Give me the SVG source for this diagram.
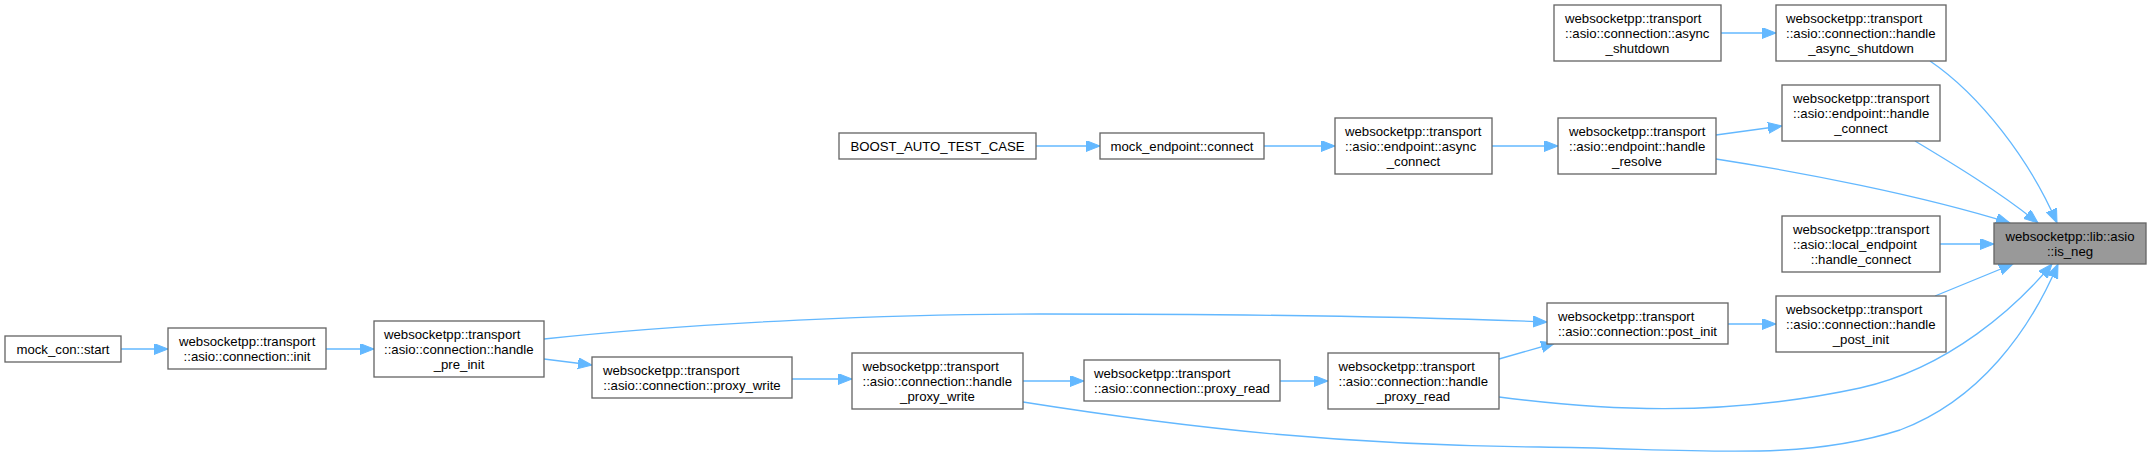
<svg xmlns="http://www.w3.org/2000/svg" width="2151" height="460" viewBox="0 0 2151 460">
<style>
.node rect{fill:#ffffff;stroke:#666666;stroke-width:1.33}
.hl rect{fill:#999999}
text{font-family:"Liberation Sans",Arial,Helvetica,sans-serif;font-size:13.2px;fill:#000000}
.c{text-anchor:middle}
.edge path{fill:none;stroke:#63b8ff;stroke-width:1.33;marker-end:url(#arr)}
</style>
<defs>
<marker id="arr" markerUnits="userSpaceOnUse" markerWidth="15" markerHeight="12" refX="14" refY="5.5" orient="auto">
<path d="M0,0 L14,5.5 L0,11 z" fill="#63b8ff" stroke="#63b8ff" stroke-width="1"/>
</marker>
</defs>
<rect x="0" y="0" width="2151" height="460" fill="#ffffff"/>
<g class="edge" id="connectors">
<path d="M121,349 L168,349"/>
<path d="M326,349 L374,349"/>
<path d="M544,359 L592,365"/>
<path d="M544,339 C700,322 900,314 1040,314 S1400,316 1547,322"/>
<path d="M792,379 L852,379"/>
<path d="M1023,381 L1084,381"/>
<path d="M1280,381 L1328,381"/>
<path d="M1499,359 L1555,343"/>
<path d="M1499,397 C1600,410 1720,418 1860,388 C1950,368 2018,305 2052,264"/>
<path d="M1023,402 C1200,430 1350,445 1540,447 C1700,449 1800,462 1900,430 C1980,400 2030,330 2058,264"/>
<path d="M1728,324 L1776,324"/>
<path d="M1935,296 L2013,264"/>
<path d="M1940,244 L1994,244"/>
<path d="M1716,159 C1800,172 1920,195 2010,223"/>
<path d="M1915,141 C1950,162 2000,192 2038,223"/>
<path d="M1930,61 C1980,95 2030,160 2057,223"/>
<path d="M1721,33 L1776,33"/>
<path d="M1036,146 L1100,146"/>
<path d="M1264,146 L1335,146"/>
<path d="M1492,146 L1558,146"/>
<path d="M1716,135 L1782,126"/>
</g>
<g class="node" id="n_async_shutdown">
<rect x="1554" y="5" width="167" height="56"/>
<text x="1565" y="23">websocketpp::transport</text>
<text x="1565" y="38">::asio::connection::async</text>
<text class="c" x="1637.5" y="53">_shutdown</text>
</g>
<g class="node" id="n_handle_async_shutdown">
<rect x="1776" y="5" width="170" height="56"/>
<text x="1786" y="23">websocketpp::transport</text>
<text x="1786" y="38">::asio::connection::handle</text>
<text class="c" x="1861" y="53">_async_shutdown</text>
</g>
<g class="node" id="n_boost">
<rect x="839" y="133" width="197" height="26"/>
<text class="c" x="937.5" y="151">BOOST_AUTO_TEST_CASE</text>
</g>
<g class="node" id="n_mock_endpoint_connect">
<rect x="1100" y="133" width="164" height="26"/>
<text class="c" x="1182" y="151">mock_endpoint::connect</text>
</g>
<g class="node" id="n_async_connect">
<rect x="1335" y="118" width="157" height="56"/>
<text x="1345" y="136">websocketpp::transport</text>
<text x="1345" y="151">::asio::endpoint::async</text>
<text class="c" x="1413.5" y="166">_connect</text>
</g>
<g class="node" id="n_handle_resolve">
<rect x="1558" y="118" width="158" height="56"/>
<text x="1569" y="136">websocketpp::transport</text>
<text x="1569" y="151">::asio::endpoint::handle</text>
<text class="c" x="1637" y="166">_resolve</text>
</g>
<g class="node" id="n_ep_handle_connect">
<rect x="1782" y="85" width="158" height="56"/>
<text x="1793" y="103">websocketpp::transport</text>
<text x="1793" y="118">::asio::endpoint::handle</text>
<text class="c" x="1861" y="133">_connect</text>
</g>
<g class="node" id="n_local_handle_connect">
<rect x="1782" y="216" width="158" height="56"/>
<text x="1793" y="234">websocketpp::transport</text>
<text x="1793" y="249">::asio::local_endpoint</text>
<text class="c" x="1861" y="264">::handle_connect</text>
</g>
<g class="node hl" id="n_is_neg">
<rect x="1994" y="223" width="152" height="41"/>
<text x="2005.5" y="241">websocketpp::lib::asio</text>
<text class="c" x="2070" y="256">::is_neg</text>
</g>
<g class="node" id="n_post_init">
<rect x="1547" y="303" width="181" height="41"/>
<text x="1558" y="321">websocketpp::transport</text>
<text class="c" x="1637.5" y="336">::asio::connection::post_init</text>
</g>
<g class="node" id="n_handle_post_init">
<rect x="1776" y="296" width="170" height="56"/>
<text x="1786" y="314">websocketpp::transport</text>
<text x="1786" y="329">::asio::connection::handle</text>
<text class="c" x="1861" y="344">_post_init</text>
</g>
<g class="node" id="n_mock_con_start">
<rect x="5" y="336" width="116" height="26"/>
<text class="c" x="63" y="354">mock_con::start</text>
</g>
<g class="node" id="n_init">
<rect x="168" y="328" width="158" height="41"/>
<text x="179" y="346">websocketpp::transport</text>
<text class="c" x="247" y="361">::asio::connection::init</text>
</g>
<g class="node" id="n_handle_pre_init">
<rect x="374" y="321" width="170" height="56"/>
<text x="384" y="339">websocketpp::transport</text>
<text x="384" y="354">::asio::connection::handle</text>
<text class="c" x="459" y="369">_pre_init</text>
</g>
<g class="node" id="n_proxy_write">
<rect x="592" y="357" width="200" height="41"/>
<text x="603" y="375">websocketpp::transport</text>
<text class="c" x="692" y="390">::asio::connection::proxy_write</text>
</g>
<g class="node" id="n_handle_proxy_write">
<rect x="852" y="353" width="171" height="56"/>
<text x="862.5" y="371">websocketpp::transport</text>
<text x="862.5" y="386">::asio::connection::handle</text>
<text class="c" x="937.5" y="401">_proxy_write</text>
</g>
<g class="node" id="n_proxy_read">
<rect x="1084" y="360" width="196" height="41"/>
<text x="1094" y="378">websocketpp::transport</text>
<text class="c" x="1182" y="393">::asio::connection::proxy_read</text>
</g>
<g class="node" id="n_handle_proxy_read">
<rect x="1328" y="353" width="171" height="56"/>
<text x="1338.5" y="371">websocketpp::transport</text>
<text x="1338.5" y="386">::asio::connection::handle</text>
<text class="c" x="1413.5" y="401">_proxy_read</text>
</g>
</svg>
